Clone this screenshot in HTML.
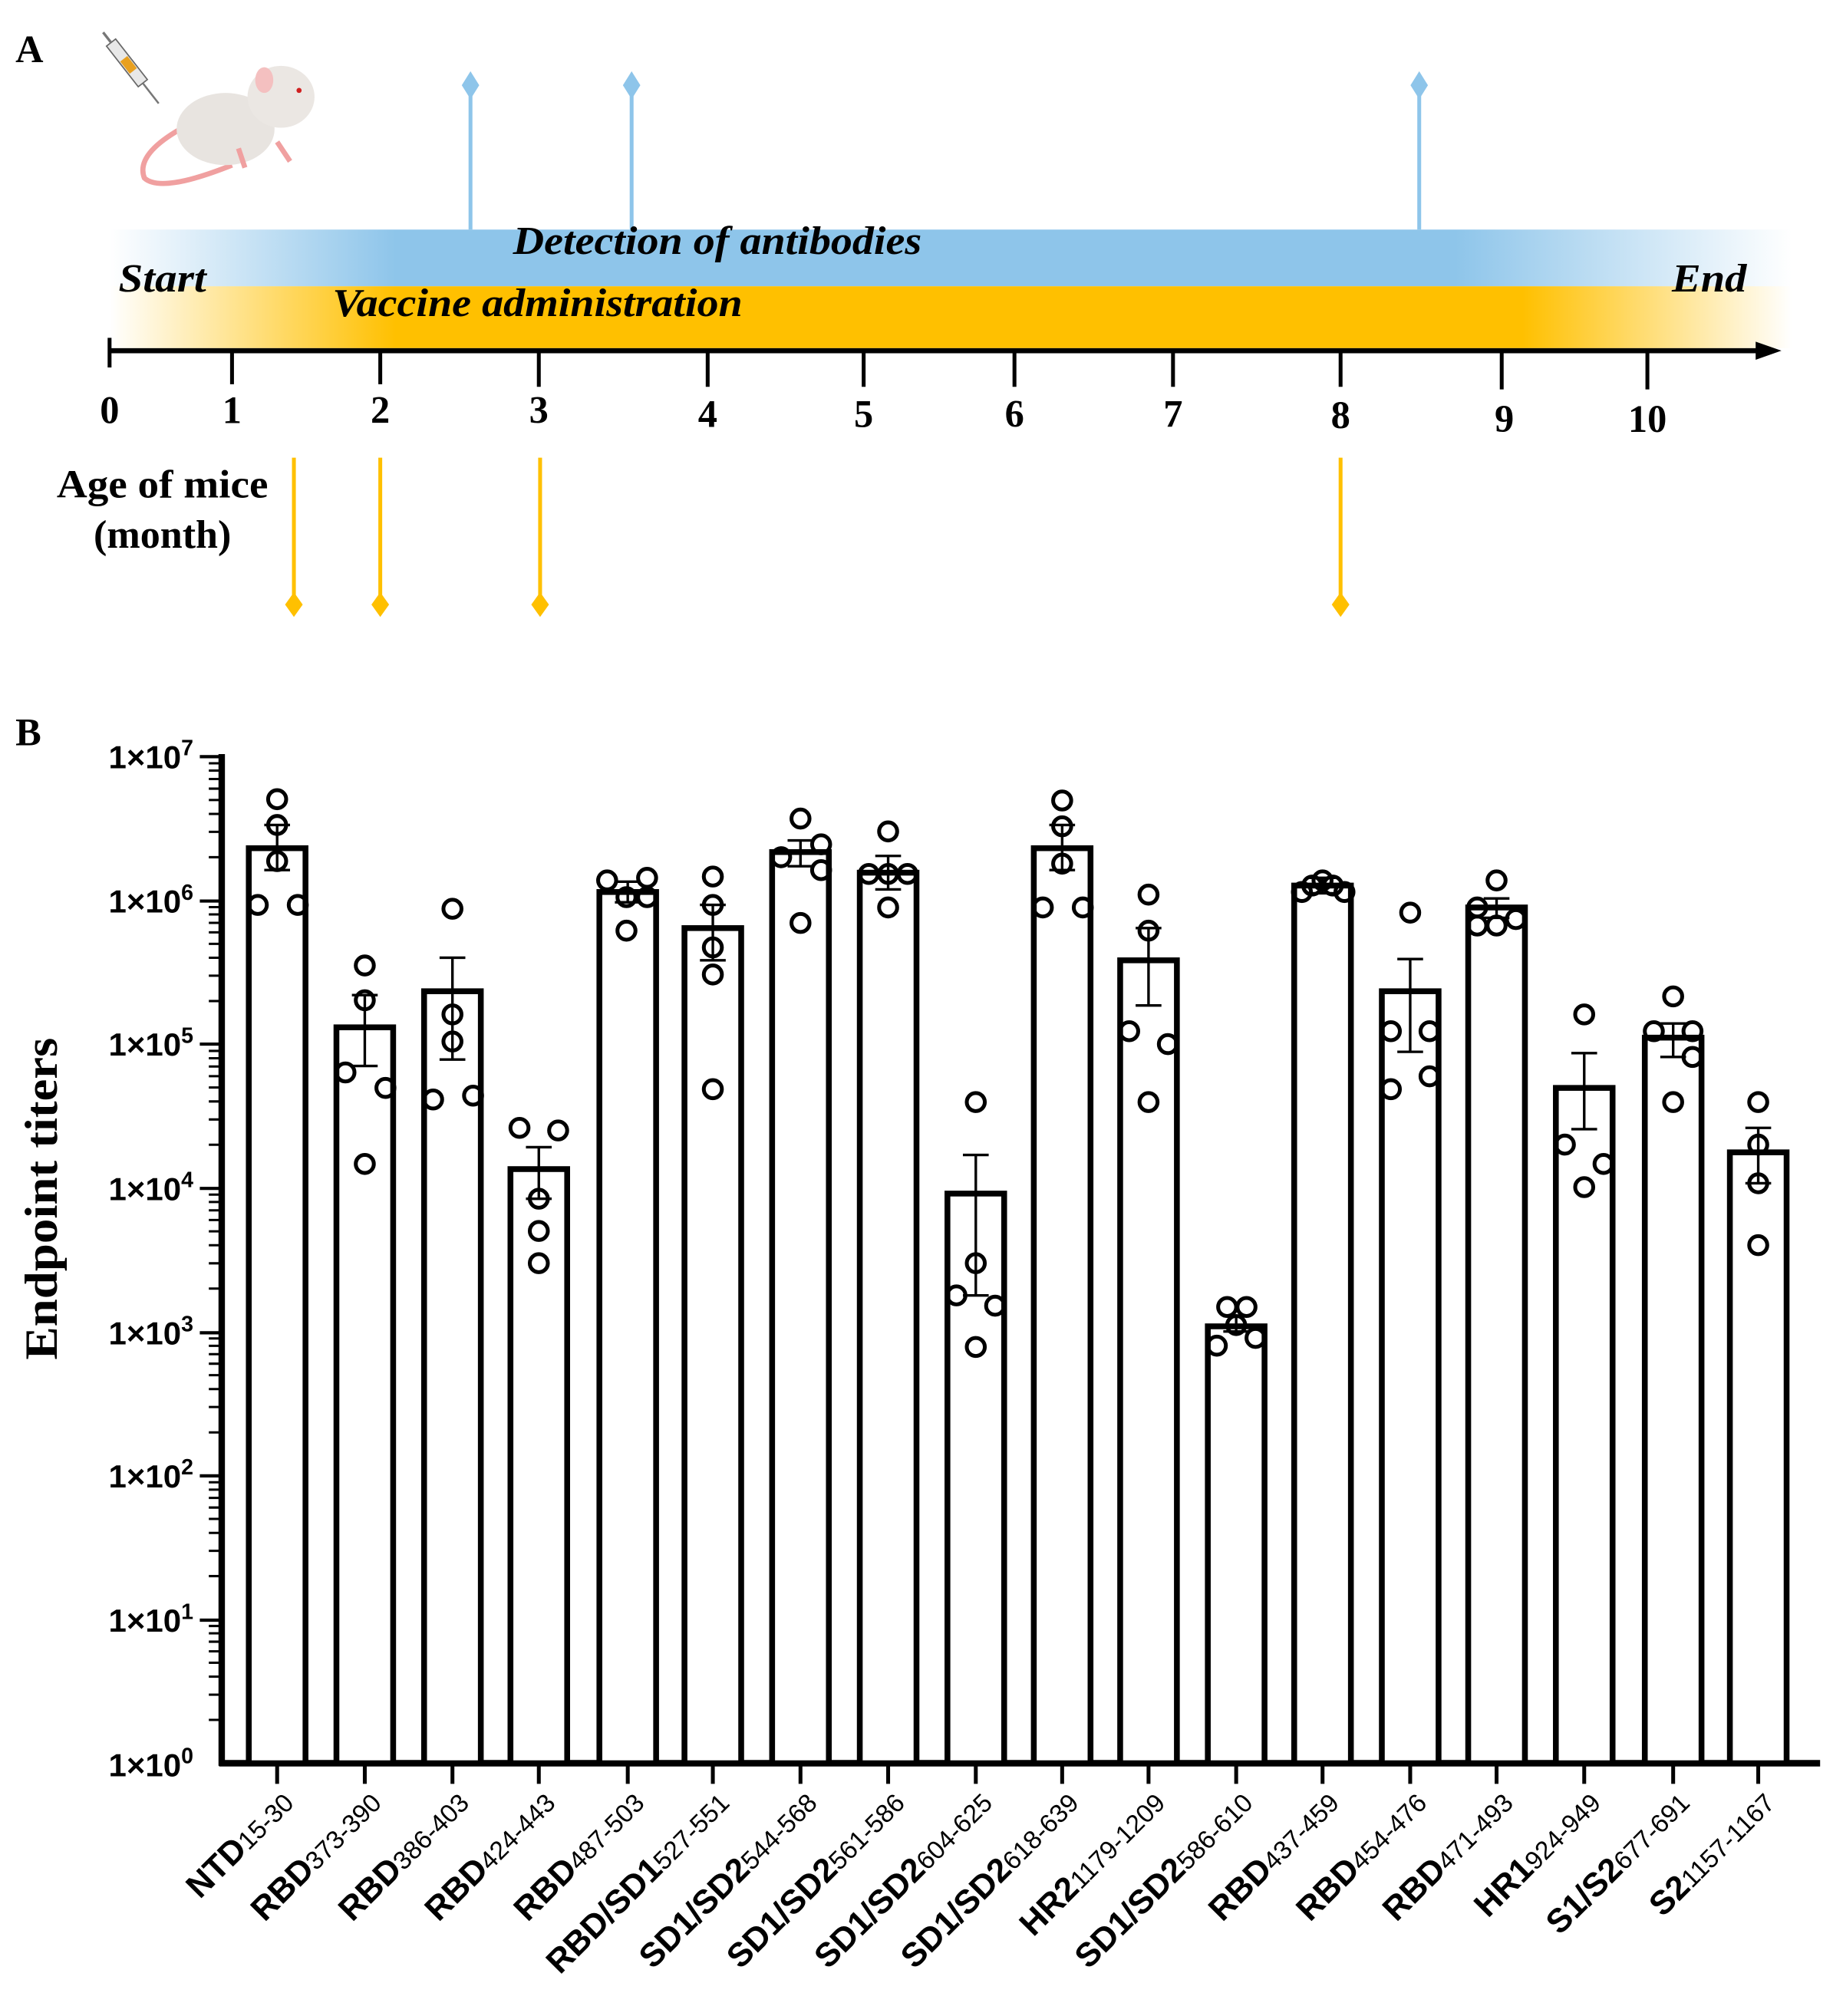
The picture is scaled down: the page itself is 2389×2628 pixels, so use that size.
<!DOCTYPE html>
<html><head><meta charset="utf-8"><style>
html,body{margin:0;padding:0;background:#fff}
svg{display:block}
.serif{font-family:"Liberation Serif",serif;font-weight:bold}
.sans{font-family:"Liberation Sans",sans-serif;font-weight:bold}
</style></head><body>
<svg width="2389" height="2628" viewBox="0 0 1422 1564" xmlns="http://www.w3.org/2000/svg">
<defs>
<linearGradient id="gb" x1="0" x2="1" y1="0" y2="0">
<stop offset="0" stop-color="#8ec5ea" stop-opacity="0"/>
<stop offset="0.17" stop-color="#8ec5ea"/>
<stop offset="0.8" stop-color="#8ec5ea"/>
<stop offset="1" stop-color="#8ec5ea" stop-opacity="0"/>
</linearGradient>
<linearGradient id="go" x1="0" x2="1" y1="0" y2="0">
<stop offset="0" stop-color="#ffc000" stop-opacity="0"/>
<stop offset="0.17" stop-color="#ffc000"/>
<stop offset="0.84" stop-color="#ffc000"/>
<stop offset="1" stop-color="#ffc000" stop-opacity="0"/>
</linearGradient>
</defs>
<!-- Panel A -->
<text x="12" y="48" class="serif" font-size="30">A</text>
<g transform="rotate(52 95 45)">
<rect x="80" y="40" width="40" height="9" fill="#e8e8e8" stroke="#666" stroke-width="1"/>
<rect x="96" y="41" width="12" height="7" fill="#e8a020"/>
<line x1="120" y1="44.5" x2="140" y2="44.5" stroke="#777" stroke-width="1.5"/>
<line x1="70" y1="44.5" x2="80" y2="44.5" stroke="#777" stroke-width="2"/>
</g>
<path d="M140 100 Q105 120 112 138 Q125 150 180 128" fill="none" stroke="#f0a0a0" stroke-width="4"/>
<ellipse cx="175" cy="100" rx="38" ry="28" fill="#e8e4e0"/>
<ellipse cx="218" cy="75" rx="26" ry="24" fill="#ebe7e3"/>
<ellipse cx="205" cy="62" rx="7" ry="10" fill="#f4c0c0"/>
<circle cx="232" cy="70" r="2" fill="#d02020"/>
<path d="M185 115 L190 130 M215 110 L225 125" stroke="#f0a0a0" stroke-width="4"/>
<rect x="85" y="178" width="1305" height="44" fill="url(#gb)"/>
<rect x="85" y="222" width="1305" height="48" fill="url(#go)"/>
<g stroke="#8ec5ea" stroke-width="3" fill="#8ec5ea">
<line x1="365" y1="66" x2="365" y2="178"/><path d="M365 58 L370 66 L365 74 L360 66Z"/>
<line x1="490" y1="66" x2="490" y2="178"/><path d="M490 58 L495 66 L490 74 L485 66Z"/>
<line x1="1101" y1="66" x2="1101" y2="178"/><path d="M1101 58 L1106 66 L1101 74 L1096 66Z"/>
</g>
<g stroke="#ffc000" stroke-width="3" fill="#ffc000">
<line x1="228" y1="355" x2="228" y2="465"/><path d="M228 462 L233 469 L228 476 L223 469Z"/>
<line x1="295" y1="355" x2="295" y2="465"/><path d="M295 462 L300 469 L295 476 L290 469Z"/>
<line x1="419" y1="355" x2="419" y2="465"/><path d="M419 462 L424 469 L419 476 L414 469Z"/>
<line x1="1040" y1="355" x2="1040" y2="465"/><path d="M1040 462 L1045 469 L1040 476 L1035 469Z"/>
</g>
<text x="398" y="197" class="serif" font-style="italic" font-size="31" textLength="317" lengthAdjust="spacingAndGlyphs">Detection of antibodies</text>
<text x="92" y="226" class="serif" font-style="italic" font-size="31" textLength="68" lengthAdjust="spacingAndGlyphs">Start</text>
<text x="258" y="245" class="serif" font-style="italic" font-size="31" textLength="318" lengthAdjust="spacingAndGlyphs">Vaccine administration</text>
<text x="1297" y="226" class="serif" font-style="italic" font-size="31" textLength="58" lengthAdjust="spacingAndGlyphs">End</text>
<line x1="85" y1="272" x2="1370" y2="272" stroke="#000" stroke-width="4"/>
<path d="M1362 265 L1382 272 L1362 279Z" fill="#000"/>
<g stroke="#000" stroke-width="3">
<line x1="85" y1="262" x2="85" y2="285"/>
<line x1="180" y1="272" x2="180" y2="298"/><line x1="295" y1="272" x2="295" y2="298"/>
<line x1="418" y1="272" x2="418" y2="300"/><line x1="549" y1="272" x2="549" y2="300"/>
<line x1="670" y1="272" x2="670" y2="300"/><line x1="787" y1="272" x2="787" y2="300"/>
<line x1="910" y1="272" x2="910" y2="300"/><line x1="1040" y1="272" x2="1040" y2="300"/>
<line x1="1165" y1="272" x2="1165" y2="302"/><line x1="1278" y1="272" x2="1278" y2="302"/>
</g>
<g class="serif" font-size="30" text-anchor="middle">
<text x="85" y="328">0</text><text x="180" y="328">1</text><text x="295" y="328">2</text>
<text x="418" y="328">3</text><text x="549" y="331">4</text><text x="670" y="331">5</text>
<text x="787" y="331">6</text><text x="910" y="331">7</text><text x="1040" y="332">8</text>
<text x="1167" y="335">9</text><text x="1278" y="335">10</text>
</g>
<text x="126" y="386" class="serif" font-size="31" text-anchor="middle" textLength="164" lengthAdjust="spacingAndGlyphs">Age of mice</text>
<text x="126" y="425" class="serif" font-size="31" text-anchor="middle">(month)</text>

<!-- Panel B -->
<text x="12" y="578" class="serif" font-size="30">B</text>
<text transform="translate(44 930) rotate(-90)" class="serif" font-size="36" text-anchor="middle" textLength="250" lengthAdjust="spacingAndGlyphs">Endpoint titers</text>
<line x1="172" y1="585" x2="172" y2="1370" stroke="#000" stroke-width="5"/>
<g class="sans" font-size="25" text-anchor="end">
<text x="150" y="596">1×10<tspan font-size="17" dy="-10">7</tspan></text>
<text x="150" y="708">1×10<tspan font-size="17" dy="-10">6</tspan></text>
<text x="150" y="819">1×10<tspan font-size="17" dy="-10">5</tspan></text>
<text x="150" y="931">1×10<tspan font-size="17" dy="-10">4</tspan></text>
<text x="150" y="1043">1×10<tspan font-size="17" dy="-10">3</tspan></text>
<text x="150" y="1154">1×10<tspan font-size="17" dy="-10">2</tspan></text>
<text x="150" y="1266">1×10<tspan font-size="17" dy="-10">1</tspan></text>
<text x="150" y="1378">1×10<tspan font-size="17" dy="-10">0</tspan></text>
</g>
<g stroke="#000" stroke-width="2.5">
<line x1="155" y1="587" x2="172" y2="587"/><line x1="155" y1="699" x2="172" y2="699"/>
<line x1="155" y1="810" x2="172" y2="810"/><line x1="155" y1="922" x2="172" y2="922"/>
<line x1="155" y1="1034" x2="172" y2="1034"/><line x1="155" y1="1145" x2="172" y2="1145"/>
<line x1="155" y1="1257" x2="172" y2="1257"/>
</g>
<g stroke="#000" stroke-width="1.8" id="minor"></g>
<line x1="170" y1="1368" x2="1412" y2="1368" stroke="#000" stroke-width="5"/>
<g id="bars" fill="#fff" stroke="#000" stroke-width="4.5"></g>
<g id="labels" font-family="Liberation Sans, sans-serif"></g>
</svg>
<script>
(function(){
var NS="http://www.w3.org/2000/svg";
function el(t,a,p){var e=document.createElementNS(NS,t);for(var k in a)e.setAttribute(k,a[k]);p.appendChild(e);return e;}
var minor=document.getElementById('minor');
var dec=111.57;
for(var d=0;d<7;d++){var base=1368-d*dec;for(var m=2;m<=9;m++){var y=base-Math.log10(m)*dec;el('line',{x1:162,y1:y.toFixed(1),x2:172,y2:y.toFixed(1)},minor);}}
var data=[
["NTD","15-30",215,658,640,675,[[215,620],[215,640],[215,668],[200,702],[231,702]]],
["RBD","373-390",283,797,772,827,[[283,749],[283,776],[268,832],[299,844],[283,903]]],
["RBD","386-403",351,769,743,822,[[351,705],[351,787],[351,808],[336,853],[367,850]]],
["RBD","424-443",418,907,890,930,[[403,875],[433,877],[418,930],[418,955],[418,980]]],
["RBD","487-503",487,692,684,700,[[471,683],[502,681],[486,696],[502,696],[486,722]]],
["RBD/SD1","527-551",553,720,702,745,[[553,680],[553,702],[553,735],[553,756],[553,845]]],
["SD1/SD2","544-568",621,661,652,672,[[621,635],[637,655],[606,665],[637,675],[621,716]]],
["SD1/SD2","561-586",689,677,664,690,[[689,645],[674,678],[689,678],[704,678],[689,704]]],
["SD1/SD2","604-625",757,926,896,1005,[[757,855],[757,980],[742,1005],[772,1013],[757,1045]]],
["SD1/SD2","618-639",824,658,640,675,[[824,621],[824,641],[824,670],[809,704],[840,704]]],
["HR2","1179-1209",891,745,720,780,[[891,694],[891,722],[876,800],[906,810],[891,855]]],
["SD1/SD2","586-610",959,1029,1021,1033,[[952,1014],[967,1014],[959,1028],[944,1044],[974,1038]]],
["RBD","437-459",1026,687,681,693,[[1018,687],[1034,687],[1026,683],[1043,692],[1010,692]]],
["RBD","454-476",1094,769,744,816,[[1094,708],[1079,800],[1109,800],[1079,845],[1109,835]]],
["RBD","471-493",1161,704,697,712,[[1161,683],[1146,704],[1161,718],[1176,713],[1146,718]]],
["HR1","924-949",1229,844,817,876,[[1229,787],[1214,888],[1244,903],[1229,921]]],
["S1/S2","677-691",1298,805,794,820,[[1298,773],[1283,800],[1313,800],[1313,820],[1298,855]]],
["S2","1157-1167",1364,894,875,918,[[1364,855],[1364,888],[1364,918],[1364,966]]]
];
var bars=document.getElementById('bars'),labs=document.getElementById('labels');
data.forEach(function(d){
var x=d[2];
el('rect',{x:x-22,y:d[3],width:44,height:1368-d[3]},bars);
var g=el('g',{stroke:'#000','stroke-width':2,fill:'none'},bars);
el('line',{x1:x,y1:d[4],x2:x,y2:d[5]},g);
el('line',{x1:x-10,y1:d[4],x2:x+10,y2:d[4]},g);
el('line',{x1:x-10,y1:d[5],x2:x+10,y2:d[5]},g);
d[6].forEach(function(p){el('circle',{cx:p[0],cy:p[1],r:7,fill:'none',stroke:'#000','stroke-width':3},bars);});
el('line',{x1:x,y1:1368,x2:x,y2:1384,stroke:'#000','stroke-width':3},bars);
var t=el('text',{transform:'translate('+(x+14)+' 1400) rotate(-45)','text-anchor':'end','font-size':26,'font-weight':'bold'},labs);
t.appendChild(document.createTextNode(d[0]));
var s=el('tspan',{'font-size':20,'font-weight':'normal'},t);s.textContent=d[1];
});
})();
</script>
</body></html>
